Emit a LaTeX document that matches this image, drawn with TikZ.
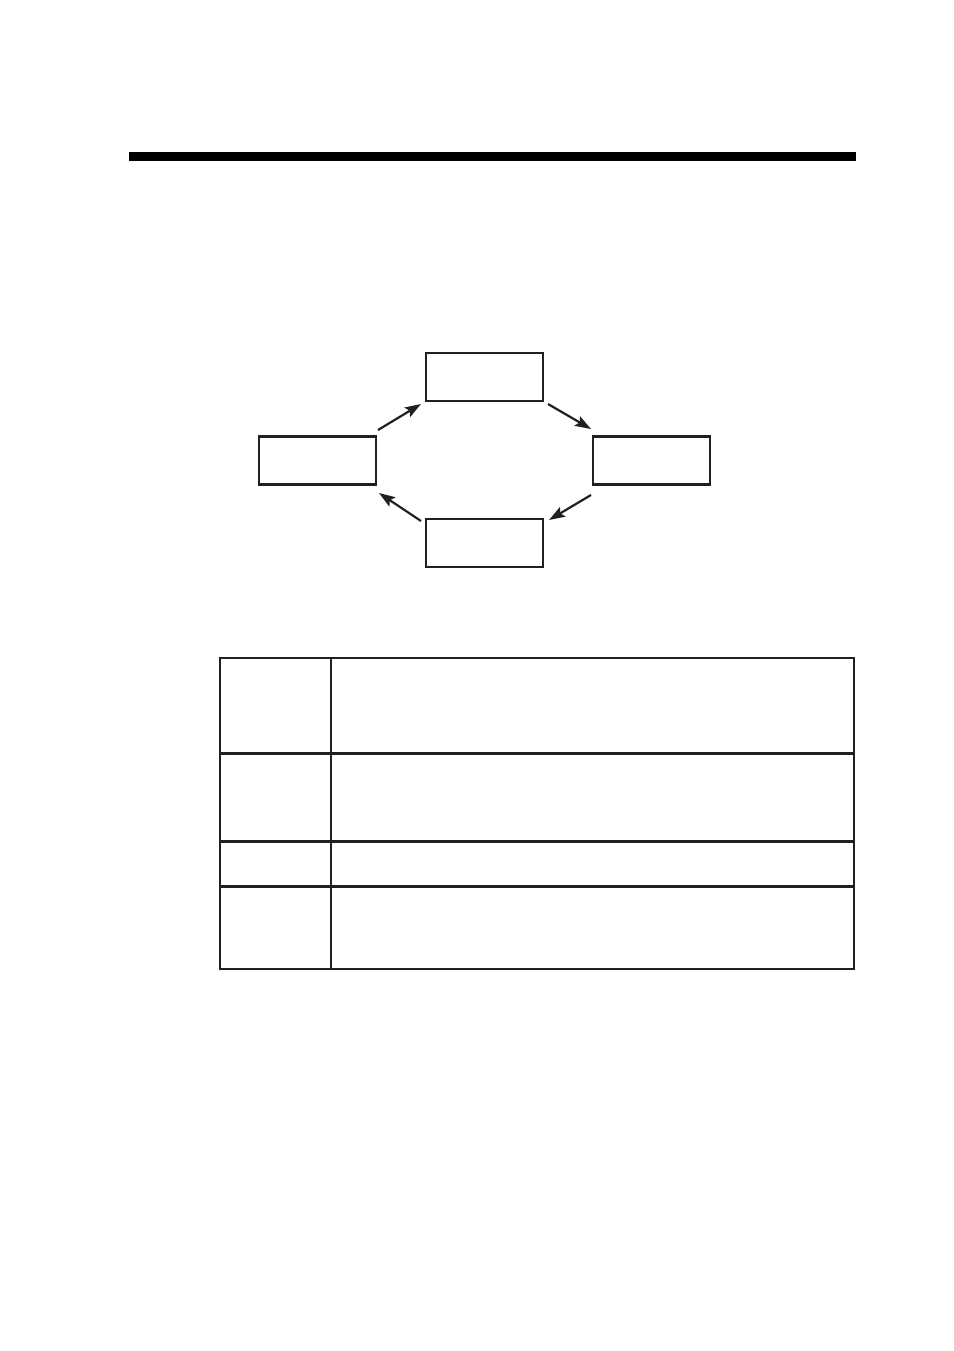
\documentclass[tikz,border=0pt]{standalone}
\usetikzlibrary{arrows.meta}
\definecolor{ink}{HTML}{231F20}
\begin{document}
\begin{tikzpicture}[x=0.5pt,y=-0.5pt,
  boxnode/.style={draw=ink,line width=1.2pt,minimum width=58.5pt,minimum height=24pt,inner sep=0pt},
  flow/.style={draw=ink,line width=1.1pt,-{Stealth[length=8pt,width=5.5pt,inset=1.5pt]}},
  grid/.style={draw=ink,line width=1.2pt}]
\useasboundingbox (0,0) rectangle (954,1351);
\fill[black] (129,152) rectangle (856,161);
\node[boxnode] (top) at (484.5,377) {};
\node[boxnode] (left) at (317.5,460.5) {};
\node[boxnode] (right) at (651.5,460.5) {};
\node[boxnode] (bottom) at (484.5,543) {};
\coordinate (a1) at (378,430); \coordinate (a2) at (421,404);
\coordinate (b1) at (548,404); \coordinate (b2) at (591,429);
\coordinate (c1) at (591,495); \coordinate (c2) at (549,520);
\coordinate (d1) at (421,521); \coordinate (d2) at (379,493);
\draw[flow] (a1) -- (a2);
\draw[flow] (b1) -- (b2);
\draw[flow] (c1) -- (c2);
\draw[flow] (d1) -- (d2);
\draw[grid] (220,658) rectangle (854,969);
\draw[grid] (331,658) -- (331,969);
\draw[grid] (220,753.5) -- (854,753.5);
\draw[grid] (220,841.5) -- (854,841.5);
\draw[grid] (220,886.5) -- (854,886.5);
\end{tikzpicture}
\end{document}
